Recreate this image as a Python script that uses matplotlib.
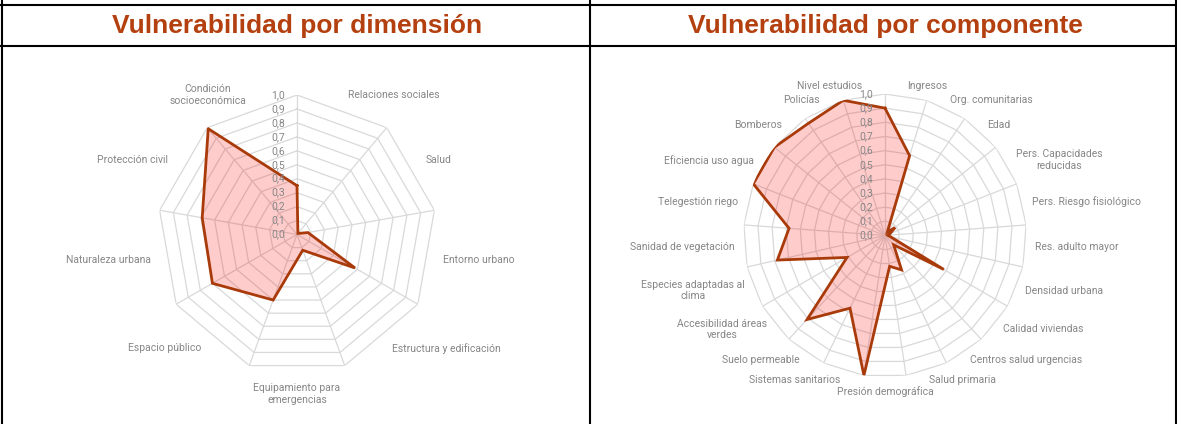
import numpy as np
import matplotlib
matplotlib.use('Agg')
import matplotlib.pyplot as plt
from matplotlib.lines import Line2D

plt.rcParams['font.family'] = ['Roboto', 'DejaVu Sans']

# ── Datos ──────────────────────────────────────────────────────────
dim_title = 'Vulnerabilidad por dimensión'
dim_labels = ['Relaciones sociales', 'Salud', 'Entorno urbano',
              'Estructura y edificación', 'Equipamiento para\nemergencias',
              'Espacio público', 'Naturaleza urbana', 'Protección civil',
              'Condición\nsocioeconómica']
dim_values = [0.35, 0.01, 0.08, 0.48, 0.12, 0.50, 0.70, 0.69, 0.99]

comp_title = 'Vulnerabilidad por componente'
comp_labels = ['Ingresos', 'Org. comunitarias', 'Edad',
               'Pers. Capacidades\nreducidas', 'Pers. Riesgo fisiológico',
               'Res. adulto mayor', 'Densidad urbana', 'Calidad viviendas',
               'Centros salud urgencias', 'Salud primaria', 'Presión demográfica',
               'Sistemas sanitarios', 'Suelo permeable',
               'Accesibilidad áreas\nverdes', 'Especies adaptadas al\nclima',
               'Sanidad de vegetación', 'Telegestión riego', 'Eficiencia uso agua',
               'Bomberos', 'Policías', 'Nivel estudios']
comp_values = [0.90, 0.59, 0.03, 0.09, 0.04, 0.02, 0.04, 0.48, 0.09, 0.27, 0.22,
               1.00, 0.57, 0.81, 0.31, 0.78, 0.68, 1.00, 1.00, 0.96, 1.00]

ring_values = [0.1, 0.2, 0.3, 0.4, 0.5, 0.6, 0.7, 0.8, 0.9, 1.0]
tick_values = [0.0, 0.1, 0.2, 0.3, 0.4, 0.5, 0.6, 0.7, 0.8, 0.9, 1.0]
tick_labels = ['0,0', '0,1', '0,2', '0,3', '0,4', '0,5', '0,6', '0,7', '0,8', '0,9', '1,0']

# ── Estilo ─────────────────────────────────────────────────────────
W, H = 1177, 424
C_LINE = '#a93a0a'
C_TITLE = '#b3400e'
C_GRID = '#d9d9d9'
C_TEXT = '#868686'


def radar(ax, labels, values):
    n = len(values)
    theta = np.arange(n) * 2 * np.pi / n
    ax.set_theta_zero_location('N')
    ax.set_theta_direction(-1)
    ax.set_ylim(0, 1)
    ax.grid(False)
    ax.set_xticks([])
    ax.set_yticks([])
    ax.spines['polar'].set_visible(False)
    ax.patch.set_visible(False)

    # rejilla poligonal
    closed = np.append(theta, theta[0])
    for r in ring_values:
        ax.plot(closed, [r] * (n + 1), color=C_GRID, lw=0.9, zorder=1)
    for t in theta:
        ax.plot([t, t], [0, 1], color=C_GRID, lw=0.9, zorder=1)

    # serie
    vals = np.append(values, values[0])
    ax.fill(closed, vals, color='red', alpha=0.2, lw=0, zorder=2)
    ax.plot(closed, vals, color=C_LINE, lw=2.0, zorder=3, solid_joinstyle='miter')

    # etiquetas del eje radial
    for v, s in zip(tick_values, tick_labels):
        ax.annotate(s, xy=(0, v), xytext=(-8.5, 0), textcoords='offset points',
                    ha='right', va='center', fontsize=7.5, color=C_TEXT, zorder=4)

    # etiquetas de categoría (a medio paso entre radios)
    for i, lab in enumerate(labels):
        t = (i + 0.5) * 2 * np.pi / n
        s = np.sin(t)
        if abs(s) < 1e-6:
            ha, va = 'center', 'top'
        else:
            ha, va = ('left' if s > 0 else 'right'), 'center'
        ax.text(t, 1.065, lab, ha=ha, va=va, multialignment='center',
                fontsize=7.5, color=C_TEXT)


fig = plt.figure(figsize=(W / 100, H / 100), dpi=100)
fig.patch.set_facecolor('white')

# ejes: centro y radio en píxeles
for (cx, cy, R), labels, values, title in [
        ((297, 234.5, 139.5), dim_labels, dim_values, dim_title),
        ((885, 235.5, 141.5), comp_labels, comp_values, comp_title)]:
    ax = fig.add_axes([(cx - R) / W, (H - cy - R) / H, 2 * R / W, 2 * R / H],
                      projection='polar')
    radar(ax, labels, values)
    fig.text(cx / W, 1 - 26 / H, title, ha='center', va='center',
             fontsize=19, fontweight='bold', color=C_TITLE,
             family=['Liberation Sans', 'DejaVu Sans'])

# bordes de la tabla
for x in [1.5, 590.5, 1175.5]:
    fig.add_artist(Line2D([x / W, x / W], [0, 1], color='black', lw=1.5))
for y in [5, 46]:
    fig.add_artist(Line2D([0, 1], [1 - y / H, 1 - y / H], color='black', lw=1.5))

fig.savefig('out.png', dpi=100)
